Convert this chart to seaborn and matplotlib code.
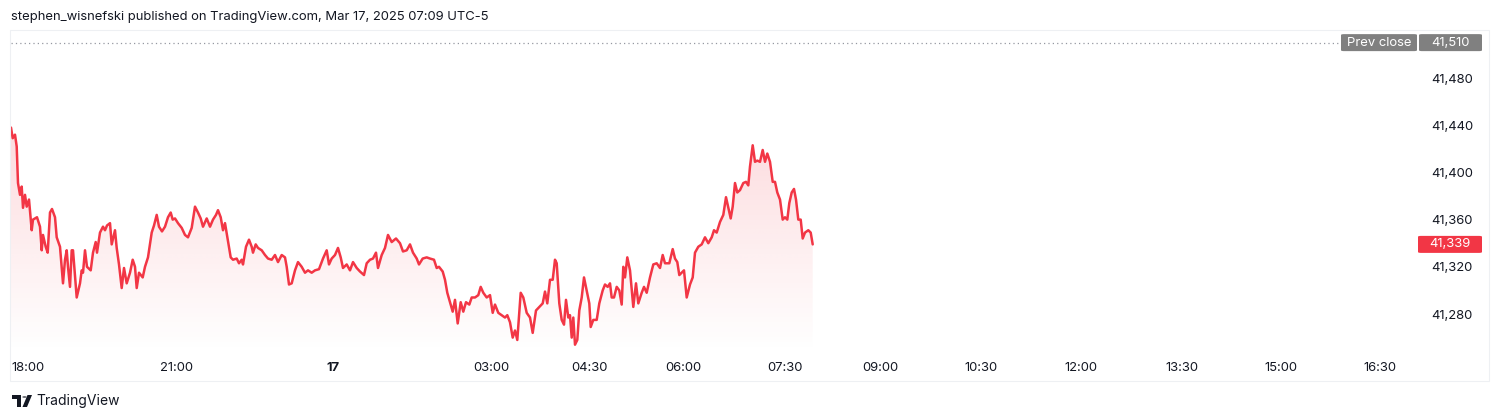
import numpy as np
import matplotlib
matplotlib.use("Agg")
import matplotlib.pyplot as plt
import seaborn as sns
from matplotlib.patches import Rectangle, FancyBboxPatch, Polygon, Circle

# ---------------- data ----------------
header = "stephen_wisnefski published on TradingView.com, Mar 17, 2025 07:09 UTC-5"

bar_offset = [0, 1.7, 4, 5.7, 7, 9, 10.7, 12, 14, 15.7, 18, 20.7, 22, 26, 29, 30.7, 32, 34.7, 36.7, 39,
              41, 44, 45.7, 49, 52, 54, 55.7, 57, 59, 60.7, 62, 65.7, 69, 70.7, 72, 74, 76, 79.7, 82, 84.7,
              86, 89, 92, 94, 96, 99, 100.7, 104, 105.7, 108, 110.7, 113, 115.7, 119, 121.7, 124, 125.7, 128,
              131.7, 134, 137, 140.7, 143, 145.7, 148, 151, 154, 157, 159.7, 161.7, 164, 167, 170.7, 174, 177,
              180.7, 184, 187, 189.7, 192, 195.7, 199, 202, 205, 207, 209.7, 212, 214, 216.7, 219.7, 222,
              225.7, 228, 230.7, 232, 235, 238, 240.7, 242, 244.7, 247, 250.7, 254, 257, 260.7, 264, 267,
              270.7, 274, 275.7, 278, 280.7, 284, 287, 290.7, 294, 297, 300.7, 304, 308, 312, 315.7, 318,
              320.7, 324, 327, 329.7, 332, 335.7, 339, 342, 345.7, 349, 353, 355.7, 359, 362, 365, 367,
              370.7, 374, 377, 380.7, 385, 389, 392, 395.7, 399, 402, 405.7, 408, 411.7, 415.7, 419, 423,
              425.7, 428, 431.7, 434, 436.3, 439, 441.7, 444, 446.7, 449.7, 452.3, 455, 458.3, 460.7, 464,
              467.3, 469.7, 472.3, 475.7, 479, 481.7, 484, 487.3, 490.7, 494, 496.3, 499, 501.7, 504, 506.3,
              509.7, 512.3, 515.7, 519, 521.7, 525, 528.3, 531.7, 534, 536.3, 539, 541.7, 544, 545.7, 548.3,
              550.7, 553, 555, 557.3, 559, 560.7, 562.3, 564, 566.3, 568.3, 570.7, 573, 575.7, 578.3, 579.7,
              582.3, 585.7, 588.3, 591.7, 594, 596.7, 599, 600.7, 603, 605.7, 608.3, 610.7, 612.3, 614,
              616.3, 619, 622.3, 625, 627.3, 630.7, 633, 635.7, 639, 642.3, 645.7, 649, 651.7, 654, 658.3,
              661.7, 664, 666.3, 668.3, 670.7, 673, 675.7, 679, 681.7, 684, 687.3, 690.7, 694, 697.3, 700.7,
              703, 705.7, 709, 712.3, 715, 717.3, 719.7, 721.7, 724, 726.3, 729, 732.3, 735, 737.3, 739,
              741.7, 744, 746.3, 749, 751.7, 754, 756.3, 759, 761.7, 764, 766.3, 769, 771.7, 774, 776.3,
              778.3, 780.7, 783, 785, 787.3, 789.7, 791.7, 794, 797.3, 799.7, 801.7]

price = [41438, 41429, 41432, 41422, 41391, 41381, 41388, 41370, 41381, 41371, 41377, 41351, 41360, 41362, 41354,
         41334, 41347, 41337, 41332, 41366, 41369, 41362, 41345, 41337, 41306, 41326, 41334, 41320, 41303, 41334,
         41334, 41294, 41306, 41317, 41315, 41334, 41320, 41317, 41332, 41341, 41332, 41349, 41354, 41351, 41355,
         41357, 41339, 41351, 41336, 41322, 41302, 41319, 41306, 41315, 41326, 41320, 41302, 41315, 41311, 41320,
         41328, 41349, 41355, 41364, 41354, 41350, 41354, 41362, 41366, 41360, 41361, 41357, 41353, 41347, 41345,
         41353, 41371, 41366, 41361, 41354, 41361, 41354, 41360, 41364, 41368, 41362, 41351, 41357, 41343, 41328,
         41326, 41327, 41323, 41326, 41322, 41337, 41343, 41337, 41332, 41339, 41336, 41334, 41330, 41327, 41326,
         41330, 41324, 41330, 41328, 41320, 41305, 41306, 41317, 41324, 41320, 41315, 41317, 41315, 41317, 41318,
         41327, 41334, 41322, 41327, 41330, 41336, 41328, 41319, 41322, 41317, 41324, 41319, 41316, 41313, 41323,
         41326, 41327, 41332, 41319, 41330, 41336, 41347, 41341, 41344, 41340, 41333, 41334, 41339, 41332, 41327,
         41322, 41327, 41328, 41327, 41326, 41319, 41320, 41316, 41309, 41298, 41290, 41282, 41292, 41272, 41290,
         41282, 41290, 41288, 41294, 41294, 41296, 41303, 41298, 41294, 41296, 41281, 41288, 41281, 41279, 41277,
         41279, 41273, 41260, 41266, 41258, 41298, 41294, 41281, 41277, 41264, 41283, 41286, 41289, 41299, 41289,
         41309, 41309, 41326, 41323, 41289, 41275, 41271, 41292, 41277, 41279, 41260, 41277, 41254, 41258, 41283,
         41294, 41311, 41300, 41289, 41269, 41275, 41275, 41289, 41300, 41305, 41303, 41306, 41294, 41294, 41303,
         41300, 41288, 41320, 41311, 41328, 41317, 41286, 41306, 41289, 41298, 41303, 41298, 41311, 41322, 41323,
         41319, 41330, 41323, 41323, 41335, 41327, 41324, 41313, 41315, 41317, 41294, 41305, 41311, 41332, 41337,
         41339, 41345, 41340, 41345, 41351, 41349, 41358, 41364, 41379, 41370, 41361, 41371, 41391, 41383, 41385,
         41391, 41392, 41389, 41405, 41423, 41409, 41410, 41409, 41419, 41409, 41416, 41409, 41392, 41392, 41383,
         41377, 41360, 41362, 41360, 41374, 41383, 41386, 41377, 41360, 41360, 41344, 41349, 41351, 41349, 41339]

time_tick_pos = [0, 165.7, 322.3, 480.7, 578.5, 672.5, 773.5, 869, 970, 1069.5, 1170.7, 1269.5, 1369]
time_tick_labels = ["18:00", "21:00", "17", "03:00", "04:30", "06:00", "07:30",
                    "09:00", "10:30", "12:00", "13:30", "15:00", "16:30"]
price_ticks = [41280, 41320, 41360, 41400, 41440, 41480]
prev_close = 41510
last_price = 41339

# ---------------- style ----------------
RED = "#F23645"
TXT = "#131722"
GREY_BOX = "#808080"
FONT = ["Inter", "DejaVu Sans"]

sns.set_theme(style="white")
plt.rcParams["font.family"] = FONT

W, H = 1500, 420
fig = plt.figure(figsize=(W / 100, H / 100), dpi=100)
fig.patch.set_facecolor("white")

L, R, T, B = 11, 1425, 30, 352
ax = fig.add_axes([L / W, 1 - B / H, (R - L) / W, (B - T) / H])
ax.set_facecolor("none")

x = np.array(bar_offset)
y = np.array(price)

sns.lineplot(x=x, y=y, ax=ax, color=RED, linewidth=1.8, estimator=None, sort=False, zorder=4)

ymin, ymax = 41247.8, 41520.7
ax.set_xlim(0, R - L)
ax.set_ylim(ymin, ymax)

# gradient area fill
poly = ax.fill_between(x, y, ymin, color="none", linewidth=0)
grad = np.zeros((256, 2, 4))
grad[..., 0] = 242 / 255
grad[..., 1] = 54 / 255
grad[..., 2] = 69 / 255
alphas = np.linspace(0.18, 0.0, 256)[:, None]
grad[..., 3] = alphas
top = max(price)
im = ax.imshow(grad, extent=[0, x[-1], ymin, top], origin="upper", aspect="auto", zorder=2,
               interpolation="bilinear")
paths = poly.get_paths()
im.set_clip_path(paths[0], transform=ax.transData)

# prev close dotted line
ax.hlines(prev_close, 0, 1330, colors="#9598A1", linestyles=(0, (1, 2.5)), linewidth=0.9, zorder=3)

# axes ticks
for s in ax.spines.values():
    s.set_visible(False)
ax.yaxis.tick_right()
ax.set_yticks(price_ticks)
ax.set_yticklabels([f"{v:,}" for v in price_ticks])
ax.tick_params(axis="y", length=0, pad=4.5, labelsize=9.4, labelcolor=TXT)
ax.set_xticks(time_tick_pos)
ax.set_xticklabels(time_tick_labels)
ax.tick_params(axis="x", length=0, pad=7, labelsize=9.4, labelcolor=TXT)
for lab in ax.get_xticklabels():
    if lab.get_text() == "17":
        lab.set_fontweight("bold")
    if lab.get_text() == "18:00":
        lab.set_horizontalalignment("left")
ax.grid(False)

fig.canvas.draw()

def ypx(p):
    # pixel y from top for a price
    return H - ax.transData.transform((0, p))[1]

def add_box(x0, x1, yc, h, color, text):
    fig.add_artist(FancyBboxPatch(((x0) / W, 1 - (yc + h / 2) / H), (x1 - x0) / W, h / H,
                                  boxstyle="round,pad=0,rounding_size=0.002", transform=fig.transFigure,
                                  facecolor=color, edgecolor="none", zorder=5))
    fig.text((x0 + x1) / 2 / W, 1 - yc / H, text, ha="center", va="center", color="white",
             fontsize=9.4, zorder=6)

yc_prev = ypx(prev_close)
add_box(1341, 1417, yc_prev, 17, GREY_BOX, "Prev close")
add_box(1419, 1482, yc_prev, 17, GREY_BOX, f"{prev_close:,}")
add_box(1418, 1482, ypx(last_price), 17, RED, f"{last_price:,}")

# outer frame
fig.add_artist(Rectangle((10 / W, 1 - 381 / H), (1489 - 10) / W, (381 - 30) / H, transform=fig.transFigure,
                         facecolor="none", edgecolor="#EEF0F3", linewidth=0.8, zorder=1))

# header
fig.text(11 / W, 1 - 17 / H, header, ha="left", va="center", color=TXT, fontsize=9.4)

# logo
def fp(px, py):
    return (px / W, 1 - py / H)

fig.add_artist(Polygon([fp(12, 395), fp(21, 395), fp(21, 407), fp(17, 407), fp(17, 399), fp(12, 399)],
                       closed=True, transform=fig.transFigure, facecolor=TXT, edgecolor="none"))
fig.add_artist(Circle(fp(24.5, 397), 2.2 / W, transform=fig.transFigure, facecolor=TXT, edgecolor="none"))
fig.add_artist(Polygon([fp(27.5, 395), fp(32, 395), fp(27, 407), fp(22.5, 407)],
                       closed=True, transform=fig.transFigure, facecolor=TXT, edgecolor="none"))
fig.text(36 / W, 1 - 401 / H, "TradingView", ha="left", va="center", color=TXT, fontsize=10)

fig.savefig("out.png", dpi=100, facecolor="white")
